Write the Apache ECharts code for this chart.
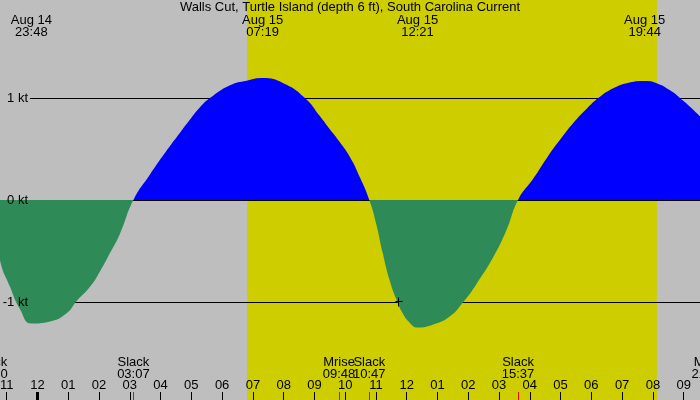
<!DOCTYPE html>
<html>
<head>
<meta charset="utf-8">
<script src="https://cdn.jsdelivr.net/npm/echarts@6/dist/echarts.min.js"></script>
<style>
  html, body { margin: 0; padding: 0; background: #bebebe; }
  #chart { width: 700px; height: 400px; }
</style>
</head>
<body>
<div id="chart"></div>
<script>
// 时间单位：8月15日零点起的小时数
var curveHours = [-1.5, -1.219, -0.894, -0.569, -0.2, 0.406, 0.949, 1.274, 1.706, 2.031, 2.356, 2.681, 3.117,
  3.656, 4.209, 4.631, 4.956, 5.281, 5.606, 6.256, 6.799, 7.317, 7.988, 8.694, 9.181, 9.506, 9.766, 10.156, 10.481, 10.783,
  11.004, 11.219, 11.437, 11.655, 11.869, 12.087, 12.35, 12.863, 13.406, 13.838, 14.274, 14.813, 15.249, 15.617,
  16.113, 16.549, 16.981, 17.413, 17.849, 18.226, 18.713, 19.149, 19.733, 20.124, 20.556, 20.881, 21.206, 21.531];
var curveKt = [0, -0.59, -0.85, -1.07, -1.21, -1.19, -1.11, -0.99, -0.85, -0.70, -0.52, -0.33, 0,
  0.25, 0.49, 0.66, 0.79, 0.91, 1.00, 1.125, 1.17, 1.195, 1.145, 1.00, 0.82, 0.69, 0.59, 0.42, 0.22, 0,
  -0.23, -0.52, -0.78, -0.97, -1.11, -1.20, -1.25, -1.22, -1.14, -1.00, -0.82, -0.56, -0.29, 0,
  0.21, 0.41, 0.59, 0.755, 0.895, 1.00, 1.095, 1.145, 1.167, 1.145, 1.075, 1.00, 0.915, 0.82];

// 最大流速
var peakHours = [-0.2, 7.317, 12.35, 19.733];
var peakDates = ['Aug 14', 'Aug 15', 'Aug 15', 'Aug 15'];
var peakClock = ['23:48', '07:19', '12:21', '19:44'];

// 憩流 / 月出月落
var eventHours = [-1.5, 3.117, 9.8, 10.783, 15.617, 21.783];
var eventNames = ['Slack', 'Slack', 'Mrise', 'Slack', 'Slack', 'Mset'];
var eventClock = ['22:30', '03:07', '09:48', '10:47', '15:37', '21:47'];

// 日出日落
var sunRise = 6.81, sunSet = 20.13;

var hourTicks = [];
for (var h = -1; h <= 21; h++) hourTicks.push(h);
var midnight = [0];
var ktTicks = [-1, 0, 1];
var markHours = [11.71];
var markKt = [-0.99];

var title = 'Walls Cut, Turtle Island (depth 6 ft), South Carolina Current';
var FAMILY = '"Liberation Sans", Arial, sans-serif';
var FONT = '13px ' + FAMILY;

var xMin = -1.2187, xMax = 21.531;
var yMin = -1.9608, yMax = 1.9608;

function hourLabel(v) {
  var h = ((Math.round(v) % 12) + 12) % 12;
  if (h === 0) h = 12;
  return (h < 10 ? '0' : '') + h;
}

// 底部刻度线（午夜粗线、事件红线）
function tickSeries(hours, color, width) {
  return {
    type: 'custom', xAxisIndex: 0, yAxisIndex: 0, z: 5, silent: true,
    data: hours.map(function (t) { return [t, 0]; }),
    renderItem: function (params, api) {
      var x = Math.round(api.coord([api.value(0), 0])[0]) + 0.5;
      return {
        type: 'line',
        shape: { x1: x, y1: 392, x2: x, y2: 400 },
        style: { stroke: color, lineWidth: width }
      };
    }
  };
}

// 涨潮蓝色、落潮绿色（0 kt 位于画布正中）
var flowFill = new echarts.graphic.LinearGradient(0, 0, 0, 400, [
  { offset: 0, color: '#0000ff' },
  { offset: 0.5, color: '#0000ff' },
  { offset: 0.5, color: '#2e8b57' },
  { offset: 1, color: '#2e8b57' }
], true);

var myChart = echarts.init(document.getElementById('chart'));
myChart.setOption({
  animation: false,
  backgroundColor: '#bebebe',
  textStyle: { fontFamily: FAMILY },
  grid: [
    { left: 0, right: 0, top: 0, bottom: 0, outerBoundsMode: 'none' },
    { left: 30, right: 0, top: 0, bottom: 0, outerBoundsMode: 'none' }
  ],
  xAxis: [{
    gridIndex: 0, type: 'value', min: xMin, max: xMax, position: 'bottom',
    axisLine: { show: false, onZero: false },
    splitLine: { show: false },
    axisTick: { inside: true, length: 8, customValues: hourTicks, lineStyle: { color: '#000', width: 1 } },
    axisLabel: {
      inside: true, margin: 8, customValues: hourTicks, formatter: hourLabel,
      color: '#000', fontSize: 13, fontFamily: FAMILY
    }
  }, {
    gridIndex: 1, type: 'value', min: xMin, max: xMax, show: false
  }],
  yAxis: [{
    // 刻度文字画在面积之上
    gridIndex: 0, type: 'value', min: yMin, max: yMax, z: 10,
    axisLine: { show: false, onZero: false },
    axisTick: { show: false, customValues: ktTicks },
    splitLine: { show: false },
    axisLabel: {
      inside: true, margin: 28, align: 'right', customValues: ktTicks,
      color: '#000', fontSize: 13, fontFamily: FAMILY,
      formatter: function (v) { return v + ' kt'; }
    }
  }, {
    gridIndex: 1, type: 'value', min: yMin, max: yMax,
    axisLine: { show: false, onZero: false },
    axisTick: { show: false, customValues: ktTicks },
    axisLabel: { show: false },
    splitLine: { show: true, lineStyle: { color: '#000', width: 1 } }
  }],
  series: [{
    // 白天背景
    type: 'custom', xAxisIndex: 0, yAxisIndex: 0, z: -1, silent: true,
    data: [[sunRise, sunSet]],
    renderItem: function (params, api) {
      var a = api.coord([api.value(0), 0]);
      var b = api.coord([api.value(1), 0]);
      return {
        type: 'rect',
        shape: { x: a[0], y: 0, width: b[0] - a[0], height: 400 },
        style: { fill: '#cdcd00' }
      };
    }
  }, {
    name: 'Current', type: 'line', xAxisIndex: 0, yAxisIndex: 0,
    data: curveHours.map(function (t, i) { return [t, curveKt[i]]; }),
    smooth: 0.5,
    clip: false,
    symbol: 'none',
    lineStyle: { width: 0 },
    areaStyle: { opacity: 1, color: flowFill },
    z: 3
  }, {
    // 十字标记
    type: 'custom', xAxisIndex: 0, yAxisIndex: 0, z: 4, silent: true,
    data: markHours.map(function (t, i) { return [t, markKt[i]]; }),
    renderItem: function (params, api) {
      var p = api.coord([api.value(0), api.value(1)]);
      var x = Math.round(p[0]) + 0.5, y = Math.round(p[1]) + 0.5;
      return {
        type: 'group', children: [
          { type: 'line', shape: { x1: x - 3, y1: y, x2: x + 4, y2: y }, style: { stroke: '#000', lineWidth: 1 } },
          { type: 'line', shape: { x1: x, y1: y - 4, x2: x, y2: y + 5 }, style: { stroke: '#000', lineWidth: 1 } }
        ]
      };
    }
  }, {
    // 顶部：最大流速时刻
    type: 'custom', xAxisIndex: 0, yAxisIndex: 0, z: 5, silent: true,
    data: peakHours.map(function (t, i) { return [t, i]; }),
    renderItem: function (params, api) {
      var i = api.value(1);
      var x = api.coord([api.value(0), 0])[0];
      return {
        type: 'group', children: [
          { type: 'text', x: x, y: 20, style: { text: peakDates[i], font: FONT, fill: '#000', align: 'center', verticalAlign: 'middle' } },
          { type: 'text', x: x, y: 32, style: { text: peakClock[i], font: FONT, fill: '#000', align: 'center', verticalAlign: 'middle' } }
        ]
      };
    }
  }, {
    // 底部：憩流 / 月出月落
    type: 'custom', xAxisIndex: 0, yAxisIndex: 0, z: 5, silent: true,
    data: eventHours.map(function (t, i) { return [t, i]; }),
    renderItem: function (params, api) {
      var i = api.value(1);
      var x = api.coord([api.value(0), 0])[0];
      return {
        type: 'group', children: [
          { type: 'text', x: x, y: 362, style: { text: eventNames[i], font: FONT, fill: '#000', align: 'center', verticalAlign: 'middle' } },
          { type: 'text', x: x, y: 374, style: { text: eventClock[i], font: FONT, fill: '#000', align: 'center', verticalAlign: 'middle' } }
        ]
      };
    }
  },
  tickSeries(midnight, '#000', 3),
  tickSeries(eventHours, '#ff0000', 1)
  ],
  graphic: [{
    type: 'text', left: 'center', top: 1, z: 10,
    style: { text: title, font: FONT, fill: '#000' }
  }]
});
</script>
</body>
</html>
